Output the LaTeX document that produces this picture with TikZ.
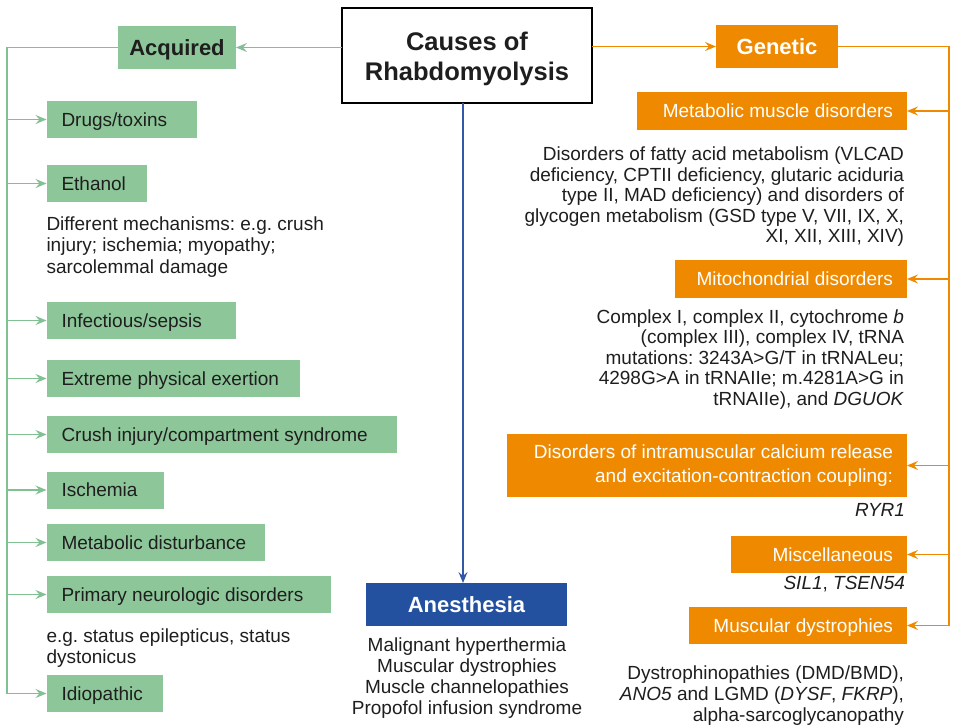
\documentclass[tikz,border=0pt]{standalone}
\usepackage{fontspec}
\setmainfont{Liberation Sans}
\usetikzlibrary{arrows.meta}
\definecolor{gfill}{RGB}{141,199,153}
\definecolor{gline}{RGB}{128,192,146}
\definecolor{ofill}{RGB}{239,138,0}
\definecolor{bfill}{RGB}{36,80,160}
\definecolor{bline}{RGB}{52,88,168}
\definecolor{ink}{RGB}{30,30,30}
\frenchspacing
\begin{document}
\frenchspacing
\begin{tikzpicture}[x=1pt,y=-1pt,
  every node/.style={inner sep=0pt, outer sep=0pt, text=ink,
    font=\fontsize{19}{20.6}\selectfont\frenchspacing},
  tip/.style={-{Stealth[length=11pt,width=9pt,inset=4pt]}},
  gcon/.style={draw=gline, line width=1.4pt, tip},
  ocon/.style={draw=ofill, line width=1.4pt, tip},
  bcon/.style={draw=bline, line width=1.4pt, tip},
  gbox/.style={fill=gfill, anchor=west, minimum height=37, inner xsep=15,
    align=flush left, text height=13.6, text depth=0},
  obox/.style={fill=ofill, anchor=east, minimum height=38, inner xsep=14,
    align=flush right, text=white, text height=13.6, text depth=0},
  hbox/.style={minimum height=43, text height=15.8, text depth=0,
    font=\bfseries\fontsize{22}{26}\selectfont},
  lpara/.style={anchor=north west, align=left, font=\fontsize{19}{21.3}\selectfont\frenchspacing},
  rpara/.style={anchor=north east, align=right},
]
\useasboundingbox (0,0) rectangle (956,728);

% title
\node[draw=black, line width=1.2pt, fill=white, minimum width=250, minimum height=95,
  align=center, text height=49, text depth=0,
  font=\bfseries\fontsize{25.5}{30}\selectfont] (title) at (467,55.5)
  {Causes of\\Rhabdomyolysis};

% headers
\node[hbox, fill=gfill, minimum width=118] (acq) at (177,47.5) {Acquired};
\node[hbox, fill=ofill, text=white, minimum width=122] (gen) at (777,46.5) {Genetic};
\node[hbox, fill=bfill, text=white, minimum width=201] (anes) at (466.5,604.5) {Anesthesia};

% acquired boxes
\node[gbox, text width=120] (drugs) at (46.5,119.5) {Drugs/toxins};
\node[gbox, text width=70]  (eth)   at (46.5,183.5) {Ethanol};
\node[lpara] (ethtxt) at (46.5,230.5-13.6)
  {Different mechanisms: e.g. crush\\injury; ischemia; myopathy;\\sarcolemmal damage};
\node[gbox, text width=159] (inf)   at (46.5,320.5) {Infectious/sepsis};
\node[gbox, text width=223] (ext)   at (46.5,378.5) {Extreme physical exertion};
\node[gbox, text width=320] (crush) at (46.5,434.5) {Crush injury/compartment syndrome};
\node[gbox, text width=87]  (isch)  at (46.5,490)   {Ischemia};
\node[gbox, text width=188] (metd)  at (46.5,542.5) {Metabolic disturbance};
\node[gbox, text width=254] (prim)  at (46.5,594.5) {Primary neurologic disorders};
\node[lpara] (primtxt) at (46.5,642-13.6)
  {e.g. status epilepticus, status\\dystonicus};
\node[gbox, text width=86]  (idio)  at (46.5,693.5) {Idiopathic};

% genetic boxes
\node[obox, text width=242] (meta) at (907,111) {Metabolic muscle disorders};
\node[rpara] (metatxt) at (904,160.5-13.8)
  {Disorders of fatty acid metabolism (VLCAD\\deficiency, CPTII deficiency, glutaric aciduria\\type II, MAD deficiency) and disorders of\\glycogen metabolism (GSD type V, VII, IX, X,\\XI, XII, XIII, XIV)};
\node[obox, text width=204] (mito) at (907,279) {Mitochondrial disorders};
\node[rpara] (mitotxt) at (904,323-13.6)
  {Complex I, complex II, cytochrome \textit{b}\\(complex III), complex IV, tRNA\\mutations: 3243A>G/T in tRNALeu;\\4298G>A in tRNAIIe; m.4281A>G in\\tRNAIIe), and \textit{DGUOK}};
\node[obox, text width=372, minimum height=63, text height=13.6, text depth=27.4,
  font=\fontsize{19}{23.4}\selectfont\frenchspacing] (calc) at (907,465.5)
  {Disorders of intramuscular calcium release\\and excitation-contraction coupling:};
\node[anchor=base east] (ryr) at (905,516) {\textit{RYR1}};
\node[obox, text width=148, minimum height=37] (misc) at (907,554.5) {Miscellaneous};
\node[anchor=base east] (sil) at (905,589) {\textit{SIL1}, \textit{TSEN54}};
\node[obox, text width=190, minimum height=37] (mdys) at (907,625.5) {Muscular dystrophies};
\node[rpara] (mdystxt) at (904,680-13.8)
  {Dystrophinopathies (DMD/BMD),\\\textit{ANO5} and LGMD (\textit{DYSF}, \textit{FKRP}),\\alpha-sarcoglycanopathy};

% anesthesia text
\node[anchor=north, align=center, font=\fontsize{19}{21.3}\selectfont] (anestxt) at (467,651-13.7)
  {Malignant hyperthermia\\Muscular dystrophies\\Muscle channelopathies\\Propofol infusion syndrome};

% connectors
\coordinate (gtr) at (7,47.5);
\coordinate (otr) at (949,46.5);
\coordinate (bx) at (463,0);

\draw[gcon] (title.west |- acq.east) -- (acq.east);
\draw[gcon] (acq.west) -- (gtr) |- (idio.west);
\foreach \n in {drugs,eth,inf,ext,crush,isch,metd,prim}
  \draw[gcon] (gtr |- \n.west) -- (\n.west);

\draw[ocon] (title.east |- gen.west) -- (gen.west);
\draw[ocon] (gen.east) -- (otr) |- (mdys.east);
\foreach \n in {meta,mito,calc,misc}
  \draw[ocon] (otr |- \n.east) -- (\n.east);

\draw[bcon] (title.south -| bx) -- (anes.north -| bx);
\end{tikzpicture}
\end{document}
